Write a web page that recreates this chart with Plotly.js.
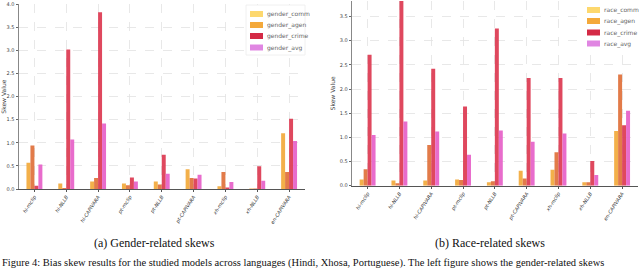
<!DOCTYPE html>
<html>
<head>
<meta charset="utf-8">
<script src="https://cdn.plot.ly/plotly-3.0.1.min.js"></script>
<style>html,body{margin:0;padding:0;background:#fff;}#chart{width:640px;height:268px;}</style>
</head>
<body>
<div id="chart"></div>
<script>
const categories = ["hi-mclip","hi-NLLB","hi-CAPIVARA","pt-mclip","pt-NLLB","pt-CAPIVARA","xh-mclip","xh-NLLB","en-CAPIVARA"];
const genderNames = ["gender_comm","gender_agen","gender_crime","gender_avg"];
const raceNames = ["race_comm","race_agen","race_crime","race_avg"];

const gender_comm  = [0.57, 0.12, 0.16, 0.12, 0.16, 0.43, 0.06, 0.01, 1.21];
const gender_agen  = [0.94, 0.02, 0.24, 0.08, 0.10, 0.24, 0.37, 0.01, 0.37];
const gender_crime = [0.07, 3.02, 3.83, 0.25, 0.74, 0.23, 0.03, 0.49, 1.52];
const gender_avg   = [0.53, 1.07, 1.42, 0.16, 0.33, 0.31, 0.15, 0.18, 1.04];

const race_comm  = [0.13, 0.11, 0.11, 0.13, 0.07, 0.31, 0.33, 0.07, 1.13];
const race_agen  = [0.34, 0.05, 0.84, 0.12, 0.09, 0.15, 0.69, 0.07, 2.30];
const race_crime = [2.71, 3.82, 2.42, 1.64, 3.25, 2.23, 2.23, 0.51, 1.25];
const race_avg   = [1.05, 1.33, 1.12, 0.64, 1.14, 0.91, 1.08, 0.22, 1.55];

const barColors = ["#f2a93b", "#e0703a", "#dc3850", "#e660c8"];
const legendColors = ["#fdd86e", "#f4a93a", "#d42a45", "#e086e2"];

const W = 640, H = 268;
const px = v => v / W;
const py = v => 1 - v / H;
const serif = "Liberation Serif, Times New Roman, DejaVu Serif, serif";

const genderSeries = [gender_comm, gender_agen, gender_crime, gender_avg];
const raceSeries = [race_comm, race_agen, race_crime, race_avg];

const traces = [];
genderSeries.forEach((s, i) => traces.push({
  type: "bar", x: categories, y: s, name: genderNames[i], xaxis: "x", yaxis: "y",
  marker: {color: barColors[i], opacity: 0.92, line: {width: 0}}, showlegend: false, hoverinfo: "skip"
}));
raceSeries.forEach((s, i) => traces.push({
  type: "bar", x: categories, y: s, name: raceNames[i], xaxis: "x2", yaxis: "y2",
  marker: {color: barColors[i], opacity: 0.92, line: {width: 0}}, showlegend: false, hoverinfo: "skip"
}));

const xCommon = {
  type: "category", showline: true, linecolor: "#555", linewidth: 1,
  ticks: "outside", ticklen: 2, tickcolor: "#555",
  showgrid: true, gridcolor: "#e2e2e2", griddash: "dash", gridwidth: 0.8,
  tickangle: -57, automargin: false, zeroline: false,
  tickfont: {family: "DejaVu Sans", size: 5, color: "#333", style: "italic"}
};
const yCommon = {
  showline: true, linecolor: "#888", linewidth: 1,
  ticks: "outside", ticklen: 2, tickcolor: "#666",
  showgrid: true, gridcolor: "#e2e2e2", griddash: "dash", gridwidth: 0.8,
  dtick: 0.5, tick0: 0, tickformat: ".1f", zeroline: false, automargin: false,
  tickfont: {family: "DejaVu Sans", size: 5, color: "#444"},
  title: {text: "Skew Value", font: {family: "DejaVu Sans", size: 6, color: "#444"}, standoff: 3}
};

const layout = {
  width: W, height: H,
  margin: {l: 0, r: 0, t: 0, b: 0, pad: 0},
  paper_bgcolor: "#fff", plot_bgcolor: "#fff",
  barmode: "group", bargap: 0.5, bargroupgap: 0,
  showlegend: false,
  xaxis: Object.assign({}, xCommon, {domain: [px(18.5), px(305)], anchor: "y"}),
  yaxis: Object.assign({}, yCommon, {domain: [py(189), py(4.3)], range: [0, 4.0], anchor: "x"}),
  xaxis2: Object.assign({}, xCommon, {domain: [px(351.7), px(638)], anchor: "y2"}),
  yaxis2: Object.assign({}, yCommon, {domain: [py(185.7), py(1)], range: [0, 3.82], anchor: "x2"}),
  shapes: [],
  annotations: []
};

// legend boxes
layout.shapes.push({type: "rect", xref: "paper", yref: "paper", x0: px(246), x1: px(305), y0: py(55), y1: py(5),
  fillcolor: "#fff", line: {color: "#ececec", width: 0.8}, layer: "above"});
layout.shapes.push({type: "rect", xref: "paper", yref: "paper", x0: px(584), x1: px(639), y0: py(53), y1: py(1),
  fillcolor: "#fff", line: {color: "#ffffff", width: 0}, layer: "above"});

function addLegend(names, x0, yRows) {
  names.forEach((n, i) => {
    const yc = yRows[i];
    layout.shapes.push({type: "rect", xref: "paper", yref: "paper",
      x0: px(x0), x1: px(x0 + 13), y0: py(yc + 3), y1: py(yc - 3),
      fillcolor: legendColors[i], line: {width: 0}, layer: "above"});
    layout.annotations.push({xref: "paper", yref: "paper", x: px(x0 + 15), y: py(yc),
      xanchor: "left", yanchor: "middle", showarrow: false, text: n,
      font: {family: "DejaVu Sans", size: 6, color: "#666"}});
  });
}
addLegend(genderNames, 250, [14, 25, 36, 47.5]);
addLegend(raceNames, 587, [10, 21, 32.5, 43.5]);

// sub-captions
layout.annotations.push({xref: "paper", yref: "paper", x: px(154), y: py(243), xanchor: "center", yanchor: "middle",
  showarrow: false, text: "(a) Gender-related skews", font: {family: serif, size: 12, color: "#111"}});
layout.annotations.push({xref: "paper", yref: "paper", x: px(490), y: py(243), xanchor: "center", yanchor: "middle",
  showarrow: false, text: "(b) Race-related skews", font: {family: serif, size: 12, color: "#111"}});
layout.annotations.push({xref: "paper", yref: "paper", x: px(0), y: py(254.5), xanchor: "left", yanchor: "top",
  showarrow: false, text: "Figure 4: Bias skew results for the studied models across languages (Hindi, Xhosa, Portuguese). The left figure shows the gender-related skews",
  font: {family: serif, size: 10.5, color: "#111"}});

Plotly.newPlot("chart", traces, layout, {staticPlot: true, displayModeBar: false});
</script>
</body>
</html>
